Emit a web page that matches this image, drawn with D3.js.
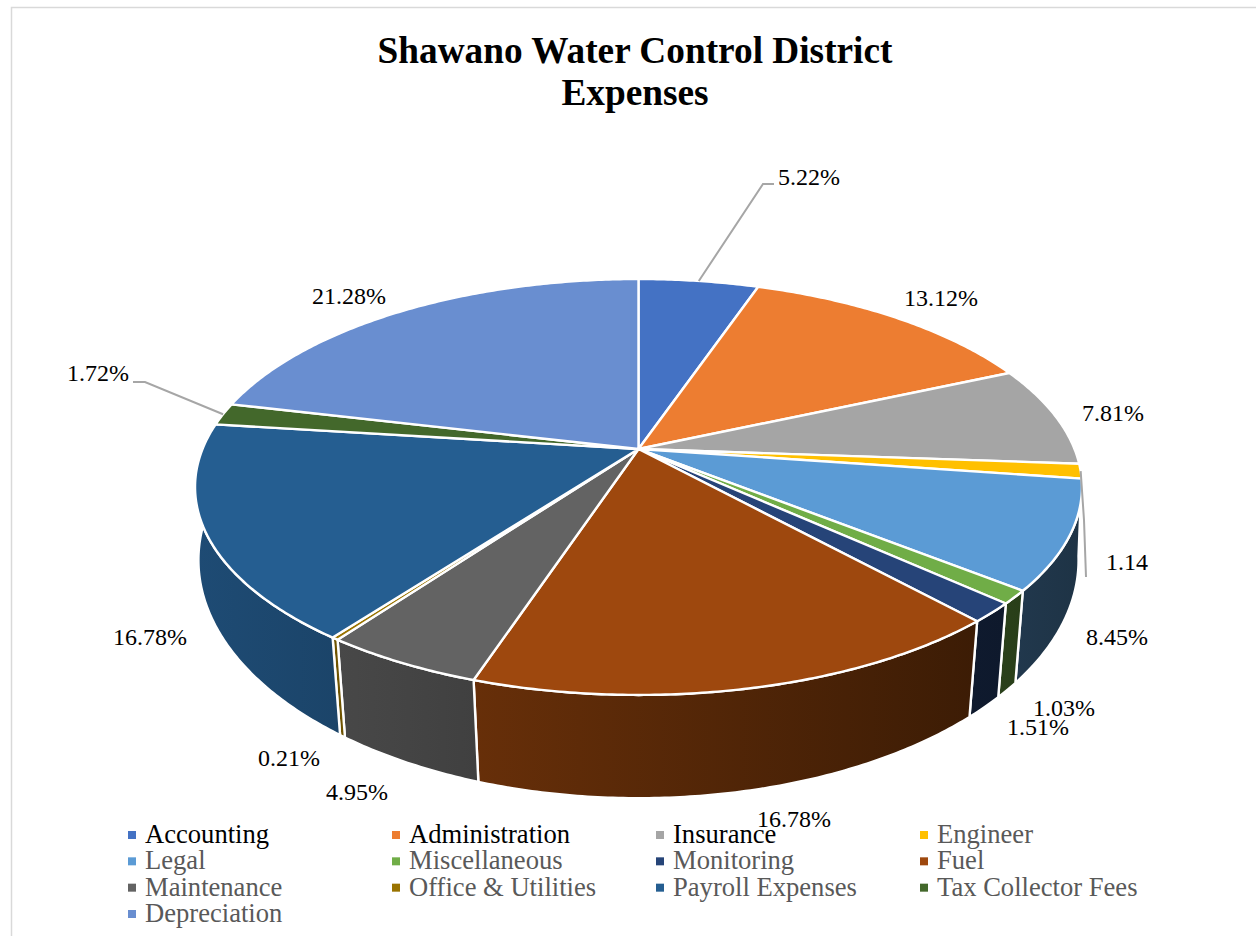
<!DOCTYPE html>
<html>
<head>
<meta charset="utf-8">
<script src="https://cdn.jsdelivr.net/npm/d3@7/dist/d3.min.js"></script>
<style>
html,body{margin:0;padding:0;background:#fff;overflow:hidden}
svg{display:block}
text{font-family:"Liberation Serif","Times New Roman",serif}
</style>
</head>
<body>
<svg id="c" width="1256" height="936"></svg>
<script>
const categories = ["Accounting","Administration","Insurance","Engineer","Legal","Miscellaneous","Monitoring","Fuel","Maintenance","Office & Utilities","Payroll Expenses","Tax Collector Fees","Depreciation"];
const values = [5.22,13.12,7.81,1.14,8.45,1.03,1.51,16.78,4.95,0.21,16.78,1.72,21.28];
const labels = ["5.22%","13.12%","7.81%","1.14","8.45%","1.03%","1.51%","16.78%","4.95%","0.21%","16.78%","1.72%","21.28%"];
const colors = ["#4472c4","#ed7d31","#a5a5a5","#ffc000","#5b9bd5","#70ad47","#264478","#9e480e","#636363","#997300","#255e91","#43682b","#698ed0"];
const titleLines = ["Shawano Water Control District","Expenses"];

// layout
const labelAnchors = [[809,185],[941,306],[1113,421],[1127,570],[1117,645],[1064,716],[1038,735],[794,827],[357,800],[289,766],[150,645],[98,381],[349,304]];
const leaderTails = {0:[[763,184],[774,184]],3:[[1084,520],[1086,577]],11:[[145,382],[133,382]]};
const legendBlackCount = 3;
const cx=638.5;
const upper={cy:449,A:436,B:201,k:0.1827};
const lower={cy:522,A:434.4,B:232,k:0.16};

const svg=d3.select("#c");
const defs=svg.append("defs");
svg.append("path").attr("d","M11.5,936V7.5H1256").attr("fill","none").attr("stroke","#d9d9d9").attr("stroke-width",1.5);

function rim(p){
  const xS=d3.scaleLinear().domain([-1,1]).range([cx-p.A,cx+p.A]);
  const yS=d3.scaleLinear().domain([-1,1]).range([p.cy+p.B,p.cy-p.B]);
  return a=>{const u=Math.sin(a),v=Math.cos(a),w=1+p.k*v;return [xS(u/w),yS(v/w)];};
}
const rimTop=rim(upper), rimLow=rim(lower);
function samples(a0,a1){const n=Math.max(2,Math.ceil((a1-a0)/0.01));return d3.range(n+1).map(i=>a0+(a1-a0)*i/n);}

const arcs=d3.pie().sort(null).value(d=>d).startAngle(0).endAngle(2*Math.PI)(values);
const line=d3.line();
const shade=d3.scaleLinear().domain([200,1000]).range([0.80,0.37]);
function dim(col,f){const c=d3.rgb(col);return d3.rgb(c.r*f,c.g*f,c.b*f).formatHex();}

// walls
const walls=svg.append("g");
arcs.forEach((s,i)=>{
  const as=samples(s.startAngle,s.endAngle);
  const up=as.map(rimTop), dn=as.map(rimLow).reverse();
  const pts=up.concat(dn);
  const xs=pts.map(p=>p[0]);
  const x0=d3.min(xs), x1=d3.max(xs);
  const id="w"+i;
  const g=defs.append("linearGradient").attr("id",id).attr("gradientUnits","userSpaceOnUse").attr("x1",x0).attr("x2",x1+0.01).attr("y1",0).attr("y2",0);
  g.append("stop").attr("offset",0).attr("stop-color",dim(colors[i],shade(x0)));
  g.append("stop").attr("offset",1).attr("stop-color",dim(colors[i],shade(x1)));
  walls.append("path").attr("d",line(pts)+"Z").attr("fill",`url(#${id})`).attr("stroke","#fff").attr("stroke-width",2.4).attr("stroke-linejoin","round");
});

// top faces
const faces=svg.append("g");
arcs.forEach((s,i)=>{
  const pts=[[cx,upper.cy]].concat(samples(s.startAngle,s.endAngle).map(rimTop));
  faces.append("path").attr("d",line(pts)+"Z").attr("fill",colors[i]).attr("stroke","#fff").attr("stroke-width",2.4).attr("stroke-linejoin","round");
});

// leader lines
Object.keys(leaderTails).forEach(key=>{
  const s=arcs[+key];
  const start=rimTop((s.startAngle+s.endAngle)/2);
  svg.append("path").attr("d",line([start].concat(leaderTails[key]))).attr("fill","none").attr("stroke","#a6a6a6").attr("stroke-width",2);
});

// data labels
labels.forEach((t,i)=>{
  svg.append("text").attr("x",labelAnchors[i][0]).attr("y",labelAnchors[i][1]).attr("text-anchor","middle").attr("font-size",24).attr("fill","#000").text(t);
});

// title
titleLines.forEach((t,i)=>{
  svg.append("text").attr("x",635).attr("y",63+i*42).attr("text-anchor","middle").attr("font-size",37.3).attr("font-weight","bold").attr("fill","#000").text(t);
});

// legend
const colX=d3.scalePoint().domain([0,1,2,3]).range([128,920]);
const rowY=d3.scalePoint().domain([0,1,2,3]).range([835,914]);
categories.forEach((c,i)=>{
  const col=i%4,row=Math.floor(i/4);
  svg.append("rect").attr("x",colX(col)).attr("y",rowY(row)-4).attr("width",8).attr("height",8).attr("fill",colors[i]);
  svg.append("text").attr("x",colX(col)+17).attr("y",rowY(row)+8).attr("font-size",26.6).attr("fill",i<legendBlackCount?"#000":"#595959").text(c);
});
</script>
</body>
</html>
